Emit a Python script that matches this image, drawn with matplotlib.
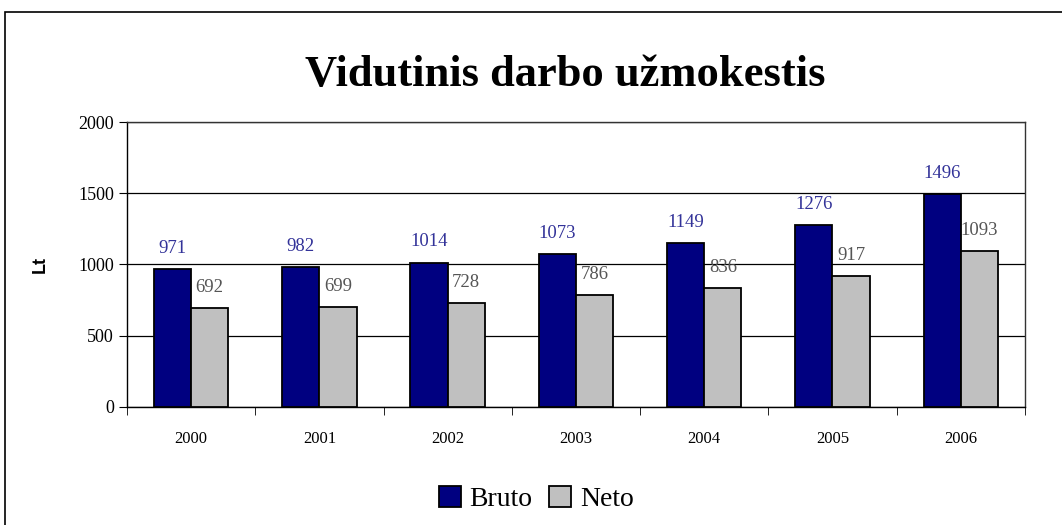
import numpy as np
import matplotlib.pyplot as plt
from matplotlib.patches import Rectangle

years = ['2000', '2001', '2002', '2003', '2004', '2005', '2006']
bruto = [971, 982, 1014, 1073, 1149, 1276, 1496]
neto = [692, 699, 728, 786, 836, 917, 1093]

serif = ['Liberation Serif', 'DejaVu Serif']

fig = plt.figure(figsize=(10.62, 5.25), dpi=100)
ax = fig.add_axes([0.1196, 0.2248, 0.8454, 0.5428])

# outer chart frame
fig.patches.append(Rectangle((5 / 1062, -0.1), 1.2, 1 - 12 / 525 + 0.1,
                             transform=fig.transFigure, fill=False,
                             edgecolor='black', linewidth=1.2))

x = np.arange(len(years))
w = 0.29
b1 = ax.bar(x - w / 2, bruto, w, color='#000080', edgecolor='black', linewidth=1.3, label='Bruto', zorder=3)
b2 = ax.bar(x + w / 2, neto, w, color='#c0c0c0', edgecolor='black', linewidth=1.3, label='Neto', zorder=3)

for xi, v in zip(x, bruto):
    ax.text(xi - w / 2, v + 85, str(v), ha='center', va='bottom', color='#333399',
            fontsize=13.5, family=serif)
for xi, v in zip(x, neto):
    ax.text(xi + w / 2, v + 85, str(v), ha='center', va='bottom', color='#555555',
            fontsize=13.5, family=serif)

ax.set_xlim(-0.5, len(years) - 0.5)
ax.set_ylim(0, 2000)
ax.set_yticks([0, 500, 1000, 1500, 2000])
ax.set_xticks(x)
ax.set_xticklabels(years, family=serif, fontsize=12)
ax.set_xticks(np.arange(len(years) + 1) - 0.5, minor=True)
ax.tick_params(axis='x', which='major', length=0, pad=17)
ax.tick_params(axis='x', which='minor', length=6, direction='out')
ax.tick_params(axis='y', length=6, direction='out', labelsize=13)
for lab in ax.get_yticklabels():
    lab.set_family(serif)
ax.yaxis.grid(True, color='black', linewidth=0.9, zorder=0)
for s in ax.spines.values():
    s.set_color('#333333')
    s.set_linewidth(1.0)
ax.spines['left'].set_color('black')
ax.spines['bottom'].set_color('black')

ax.set_ylabel('Lt', family=['Liberation Sans', 'DejaVu Sans'], fontweight='bold', fontsize=13, labelpad=21)

fig.text(0.532, 0.858, 'Vidutinis darbo užmokestis', ha='center', va='center',
         family=serif, fontweight='bold', fontsize=32)

fig.legend(handles=[b1, b2], labels=['Bruto', 'Neto'], loc='center', bbox_to_anchor=(0.505, 0.05),
           ncol=2, frameon=False, prop={'family': serif, 'size': 20},
           handlelength=0.8, handleheight=0.8, handletextpad=0.3, columnspacing=0.6)

fig.savefig('out.png', dpi=100)
